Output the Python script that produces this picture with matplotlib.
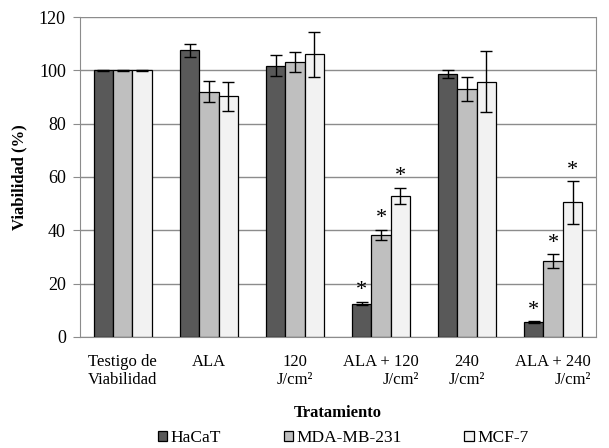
import numpy as np
import matplotlib.pyplot as plt

plt.rcParams['font.family'] = ['Liberation Serif', 'DejaVu Serif']

categories = ['Testigo de\nViabilidad', 'ALA', '120\nJ/cm²', 'ALA + 120\nJ/cm²',
              '240\nJ/cm²', 'ALA + 240\nJ/cm²']
series = ['HaCaT', 'MDA-MB-231', 'MCF-7']
hacat = [100, 107.5, 101.7, 12.5, 98.6, 5.7]
mda = [100, 92, 103, 38.2, 93, 28.5]
mcf = [100, 90.3, 106, 53, 95.7, 50.5]
hacat_err = [0.3, 2.5, 4, 0.7, 1.5, 0.3]
mda_err = [0.3, 4, 3.7, 2, 4.5, 2.5]
mcf_err = [0.3, 5.5, 8.5, 3, 11.5, 8]
# asterisk marks (significance) per series
hacat_sig = [False, False, False, True, False, True]
mda_sig = [False, False, False, True, False, True]
mcf_sig = [False, False, False, True, False, True]

colors = ['#595959', '#bfbfbf', '#f2f2f2']

fig = plt.figure(figsize=(6.09, 4.48), dpi=100)
ax = fig.add_axes([0.131, 0.248, 0.848, 0.714])

x = np.arange(len(categories))
w = 0.225
vals = [hacat, mda, mcf]
errs = [hacat_err, mda_err, mcf_err]
sigs = [hacat_sig, mda_sig, mcf_sig]
for i in range(3):
    pos = x + (i - 1) * w
    ax.bar(pos, vals[i], w, color=colors[i], edgecolor='black', linewidth=0.9,
           label=series[i], zorder=3)
    ax.errorbar(pos, vals[i], yerr=errs[i], fmt='none', ecolor='black',
                elinewidth=1, capsize=4, capthick=1, zorder=4)
    for j in range(len(categories)):
        if sigs[i][j]:
            ax.text(pos[j], vals[i][j] + errs[i][j] + 0.5, '*', ha='center',
                    va='bottom', fontsize=16)

ax.set_xlim(-0.5, len(categories) - 0.5)
ax.set_ylim(0, 120)
ax.set_yticks(range(0, 121, 20))
ax.yaxis.grid(True, color='#8c8c8c', linewidth=1, zorder=0)
ax.set_axisbelow(True)
for s in ['left', 'right']:
    ax.spines[s].set_color('#8c8c8c')
ax.spines['top'].set_visible(False)
ax.spines['bottom'].set_color('#8c8c8c')
ax.tick_params(axis='y', length=5, color='#8c8c8c', labelsize=13, pad=5)
ax.tick_params(axis='x', length=0, labelsize=12, pad=12)
ax.set_xticks(x)
labels = ax.set_xticklabels(categories, linespacing=1.2)
labels[3].set_multialignment('right')
labels[5].set_multialignment('right')
labels[5].set_x(5.07)
ax.set_ylabel('Viabilidad (%)', fontweight='bold', fontsize=12, labelpad=8)
ax.set_xlabel('Tratamiento', fontweight='bold', fontsize=12, labelpad=12)

ax.legend(loc='lower center', bbox_to_anchor=(0.51, -0.39), ncol=3, frameon=False,
          fontsize=12.5, handlelength=0.55, handleheight=0.55, handletextpad=0.2,
          columnspacing=3.6)

fig.savefig('out.png', dpi=100)
